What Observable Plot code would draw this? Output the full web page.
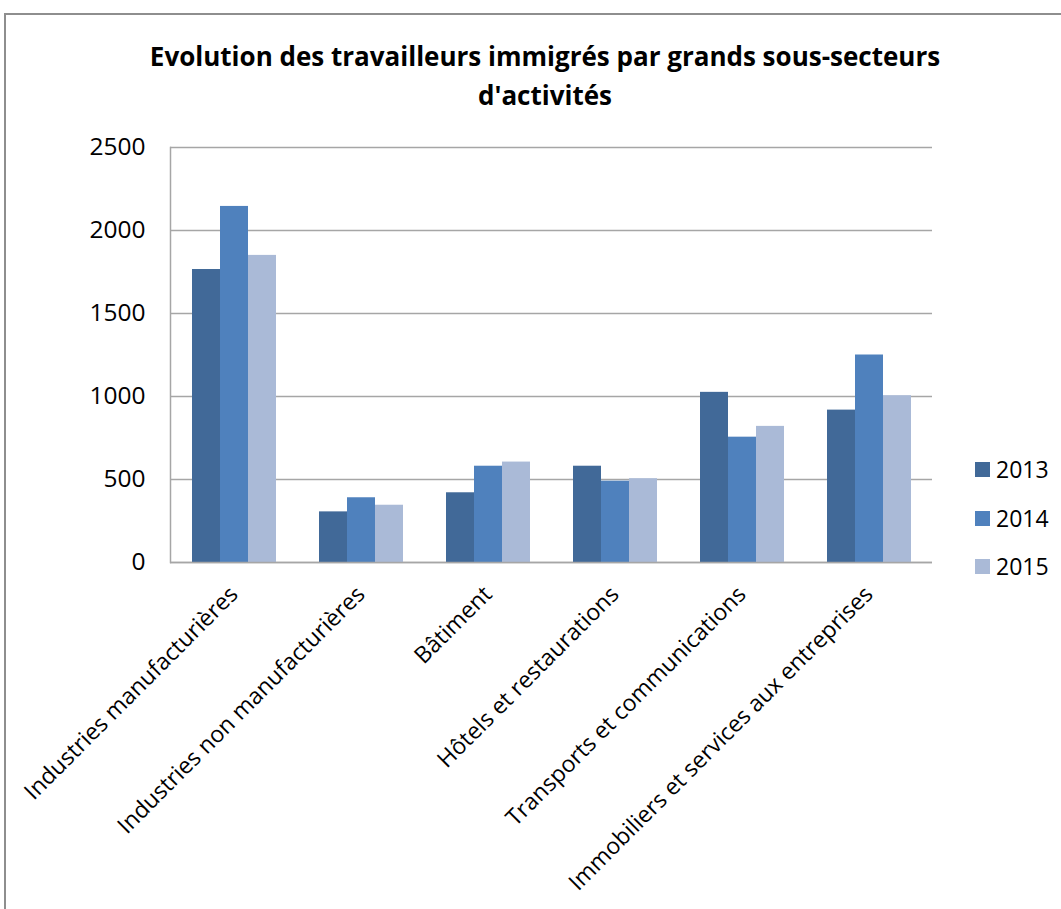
<!DOCTYPE html>
<html>
<head>
<meta charset="utf-8">
<script src="https://cdn.jsdelivr.net/npm/d3@7"></script>
<script src="https://cdn.jsdelivr.net/npm/@observablehq/plot@0.6"></script>
<style>
  html, body { margin: 0; padding: 0; background: #fff; overflow: hidden; }
  #wrap { position: relative; width: 1061px; height: 909px; overflow: hidden; font-family: "Open Sans", sans-serif; }
  #border { position: absolute; left: 4px; top: 13px; width: 1200px; height: 1200px; border: 2px solid #8e8e8e; box-sizing: border-box; }
  #title { position: absolute; left: 0; top: 37px; width: 1090px; text-align: center; font-weight: bold; font-size: 26px; line-height: 39px; color: #000; }
  #chart { position: absolute; left: 0; top: 0; }
  #legend { position: absolute; left: 975px; top: 452px; }
  .item { position: relative; height: 48.5px; font-size: 23px; color: #000; }
  .sw { position: absolute; left: 0; top: 10px; width: 15px; height: 15px; }
  .lab { position: absolute; left: 21px; top: 0px; line-height: 34px; }
</style>
</head>
<body>
<div id="wrap">
  <div id="border"></div>
  <div id="chart"></div>
  <div id="title"></div>
  <div id="legend"></div>
</div>
<script>
const title = ["Evolution des travailleurs immigrés par grands sous-secteurs", "d'activités"];
const categories = [
  "Industries manufacturières",
  "Industries non manufacturières",
  "Bâtiment",
  "Hôtels et restaurations",
  "Transports et communications",
  "Immobiliers et services aux entreprises"
];
const years = ["2013", "2014", "2015"];
const values2013 = [1765, 305, 420, 580, 1025, 918];
const values2014 = [2145, 390, 580, 490, 755, 1250];
const values2015 = [1850, 345, 605, 505, 820, 1005];
const yTicks = [0, 500, 1000, 1500, 2000, 2500];
const colors = ["#416998", "#4f81bd", "#aabad7"];

const series = [values2013, values2014, values2015];
const data = [];
categories.forEach((c, i) => years.forEach((y, j) => data.push({category: c, year: y, value: series[j][i]})));

document.getElementById("title").innerHTML = title.join("<br>");

const chart = Plot.plot({
  width: 1061,
  height: 909,
  marginLeft: 170,
  marginRight: 129,
  marginTop: 147,
  marginBottom: 347,
  style: {fontFamily: "Open Sans, sans-serif", fontSize: "22px", color: "#000", background: "transparent"},
  fx: {domain: categories, padding: 0, label: null},
  x: {domain: years, paddingInner: 0, paddingOuter: 0.75, axis: null, label: null},
  y: {domain: [0, 2500], label: null},
  color: {domain: years, range: colors},
  marks: [
    Plot.gridY(yTicks, {stroke: "#a6a6a6", strokeOpacity: 1, strokeWidth: 1.5}),
    Plot.barY(data, {fx: "category", x: "year", y: "value", fill: "year"}),
    Plot.ruleY([0], {stroke: "#a6a6a6", strokeWidth: 1.5}),
    Plot.frame({anchor: "left", stroke: "#a6a6a6", strokeWidth: 1.5, facet: "super"}),
    Plot.axisY(yTicks, {tickSize: 0, tickPadding: 25, fontSize: 24.5, tickFormat: d => String(d), label: null}),
    Plot.axisFx({anchor: "bottom", tickSize: 0, tickRotate: -45, tickPadding: 28, fontSize: 23, label: null})
  ]
});
document.getElementById("chart").appendChild(chart);

const legend = document.getElementById("legend");
years.forEach((y, i) => {
  const item = document.createElement("div");
  item.className = "item";
  item.innerHTML = `<div class="sw" style="background:${colors[i]}"></div><div class="lab">${y}</div>`;
  legend.appendChild(item);
});
</script>
</body>
</html>
